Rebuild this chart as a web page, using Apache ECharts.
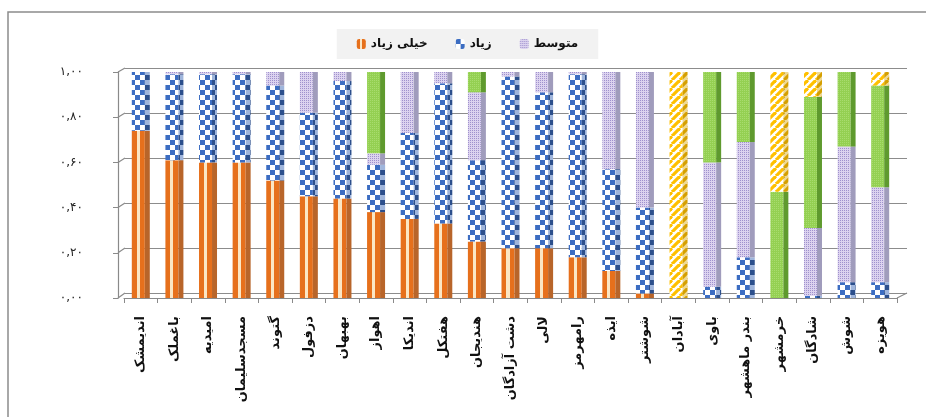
<!DOCTYPE html>
<html>
<head>
<meta charset="utf-8">
<script src="https://cdn.jsdelivr.net/npm/echarts@6/dist/echarts.min.js"></script>
<style>
  html, body { margin: 0; padding: 0; background: #ffffff; }
  #chart { width: 935px; height: 417px; }
</style>
</head>
<body>
<div id="chart"></div>
<script>
// Cities (left to right)
const categories = ['اندیمشک', 'باغملک', 'امیدیه', 'مسجدسلیمان', 'گتوند', 'دزفول', 'بهبهان', 'اهواز', 'اندیکا', 'هفتکل', 'هندیجان', 'دشت آزادگان', 'لالی', 'رامهرمز', 'ایذه', 'شوشتر', 'آبادان', 'باوی', 'بندر ماهشهر', 'خرمشهر', 'شادگان', 'شوش', 'هویزه'];

// Share of each class per city (stacked to 1.00)
const veryHigh = [0.74, 0.61, 0.60, 0.60, 0.52, 0.45, 0.44, 0.38, 0.35, 0.33, 0.25, 0.22, 0.22, 0.18, 0.12, 0.02, 0, 0, 0, 0, 0, 0, 0];
const high     = [0.26, 0.38, 0.39, 0.39, 0.42, 0.37, 0.52, 0.21, 0.38, 0.62, 0.36, 0.76, 0.69, 0.81, 0.45, 0.38, 0, 0.05, 0.18, 0, 0.01, 0.07, 0.07];
const medium   = [0, 0.01, 0.01, 0.01, 0.06, 0.18, 0.04, 0.05, 0.27, 0.05, 0.30, 0.02, 0.09, 0.01, 0.43, 0.60, 0, 0.55, 0.51, 0, 0.30, 0.60, 0.42];
const low      = [0, 0, 0, 0, 0, 0, 0, 0.36, 0, 0, 0.09, 0, 0, 0, 0, 0, 0, 0.40, 0.31, 0.47, 0.58, 0.33, 0.45];
const veryLow  = [0, 0, 0, 0, 0, 0, 0, 0, 0, 0, 0, 0, 0, 0, 0, 0, 1.00, 0, 0, 0.53, 0.11, 0, 0.06];

const seriesNames = ['خیلی زیاد', 'زیاد', 'متوسط', 'کم', 'خیلی کم'];
const legendNames = ['خیلی زیاد', 'زیاد', 'متوسط'];
const yTickLabels = ['۰,۰۰', '۰,۲۰', '۰,۴۰', '۰,۶۰', '۰,۸۰', '۱,۰۰'];

// ---- fill patterns ----
function tile(w, h, draw) {
  const c = document.createElement('canvas');
  c.width = w; c.height = h;
  draw(c.getContext('2d'), w, h);
  return { image: c, repeat: 'repeat' };
}
function checker(bg, fg) {
  return tile(10, 10, (ctx) => {
    ctx.fillStyle = bg; ctx.fillRect(0, 0, 10, 10);
    ctx.fillStyle = fg; ctx.fillRect(0, 0, 5, 5); ctx.fillRect(5, 5, 5, 5);
  });
}
function dots(bg, fg) {
  return tile(4, 4, (ctx) => {
    ctx.fillStyle = bg; ctx.fillRect(0, 0, 4, 4);
    ctx.fillStyle = fg; ctx.fillRect(0, 0, 1, 1); ctx.fillRect(2, 2, 1, 1);
    ctx.fillRect(2, 0, 1, 1); ctx.fillRect(0, 2, 1, 1);
  });
}
function stripes(bg, fg) {
  return tile(8, 8, (ctx, s) => {
    ctx.fillStyle = bg; ctx.fillRect(0, 0, s, s);
    ctx.strokeStyle = fg; ctx.lineWidth = 3.2;
    for (const k of [-s, 0, s]) {
      ctx.beginPath(); ctx.moveTo(k, s); ctx.lineTo(k + s, 0); ctx.stroke();
    }
  });
}
const orangeFront = {
  type: 'linear', x: 0, y: 0, x2: 1, y2: 0,
  colorStops: [
    { offset: 0, color: '#e6701c' }, { offset: 0.38, color: '#e6701c' },
    { offset: 0.38, color: '#fbe6c4' }, { offset: 0.62, color: '#fbe6c4' },
    { offset: 0.62, color: '#e6701c' }, { offset: 1, color: '#e6701c' }
  ]
};
const frontFills = [
  orangeFront,
  checker('#ffffff', '#3c6dc2'),
  dots('#dcd3ef', '#9f91cd'),
  dots('#94d052', '#a8dc6e'),
  stripes('#ffffff', '#ffc000')
];
const sideFills = [
  '#b8652a',
  checker('#9fb5dc', '#2c4f8c'),
  '#a09cbc',
  '#5f9a2e',
  stripes('#eed894', '#d59f00')
];
const seriesData = [veryHigh, high, medium, low, veryLow];

const series = [];
seriesData.forEach((d, i) => {
  series.push({
    name: seriesNames[i], type: 'bar', xAxisIndex: 0, yAxisIndex: 0,
    stack: 'front', barWidth: 13, barGap: '0%',
    itemStyle: { color: frontFills[i] }, data: d, z: 4
  });
});
seriesData.forEach((d, i) => {
  series.push({
    name: seriesNames[i], type: 'bar', xAxisIndex: 0, yAxisIndex: 0,
    stack: 'side', barWidth: 5, barGap: '0%',
    itemStyle: { color: sideFills[i] }, data: d, z: 4
  });
});

const axisGrey = '#8a8a8a';
const chart = echarts.init(document.getElementById('chart'), null, { renderer: 'canvas' });
chart.setOption({
  animation: false,
  backgroundColor: '#ffffff',
  textStyle: { fontFamily: 'DejaVu Sans' },
  legend: {
    data: legendNames, top: 29, left: 'center',
    backgroundColor: '#f2f2f2', padding: [9, 20], itemGap: 28,
    itemWidth: 9, itemHeight: 10,
    textStyle: { fontFamily: 'DejaVu Sans', fontSize: 12, fontWeight: 'bold', color: '#111111' }
  },
  grid: [
    { left: 124, right: 38, top: 72, bottom: 119 },
    { left: 125, right: 28, top: 68, bottom: 124 }
  ],
  xAxis: [
    {
      type: 'category', gridIndex: 0, data: categories,
      axisLine: { lineStyle: { color: axisGrey, width: 1.2 } },
      axisTick: { show: true, length: 5, lineStyle: { color: axisGrey } },
      axisLabel: { rotate: 90, interval: 0, margin: 18, fontFamily: 'DejaVu Sans', fontSize: 13, fontWeight: 'bold', color: '#111111' }
    },
    { type: 'category', gridIndex: 1, data: categories, show: false }
  ],
  yAxis: [
    {
      type: 'value', gridIndex: 0, min: 0, max: 1, interval: 0.2, offset: 6,
      axisLine: { show: true, lineStyle: { color: axisGrey, width: 1.2 } },
      axisTick: { show: true, length: 5, lineStyle: { color: axisGrey } },
      splitLine: { show: false },
      axisLabel: {
        margin: 35, fontFamily: 'DejaVu Sans', fontSize: 12, color: '#222222',
        formatter: (v) => yTickLabels[Math.round(v / 0.2)]
      }
    },
    {
      type: 'value', gridIndex: 1, min: 0, max: 1, interval: 0.2,
      axisLine: { show: false }, axisTick: { show: false }, axisLabel: { show: false },
      splitLine: { show: true, lineStyle: { color: '#8c8c8c', width: 1.2 } }
    }
  ],
  series: series
});

// Wall connectors between the front value axis and the back wall
const ticks = [0, 0.2, 0.4, 0.6, 0.8, 1.0];
const graphics = [];
ticks.forEach((v) => {
  const yFront = chart.convertToPixel({ yAxisIndex: 0 }, v);
  const yBack = chart.convertToPixel({ yAxisIndex: 1 }, v);
  graphics.push({
    type: 'line', z: 2,
    shape: { x1: 118, y1: yFront, x2: 125, y2: yBack },
    style: { stroke: axisGrey, lineWidth: 1.2 }
  });
});
const y0Front = chart.convertToPixel({ yAxisIndex: 0 }, 0);
const y0Back = chart.convertToPixel({ yAxisIndex: 1 }, 0);
graphics.push({
  type: 'line', z: 2,
  shape: { x1: 935 - 38, y1: y0Front, x2: 935 - 28, y2: y0Back },
  style: { stroke: axisGrey, lineWidth: 1.2 }
});
// outer frame
graphics.push({
  type: 'polyline', z: 1,
  shape: { points: [[8, 417], [8, 12], [926, 12]] },
  style: { stroke: '#8c8c8c', lineWidth: 1.5, fill: null }
});
chart.setOption({ graphic: graphics });
</script>
</body>
</html>
